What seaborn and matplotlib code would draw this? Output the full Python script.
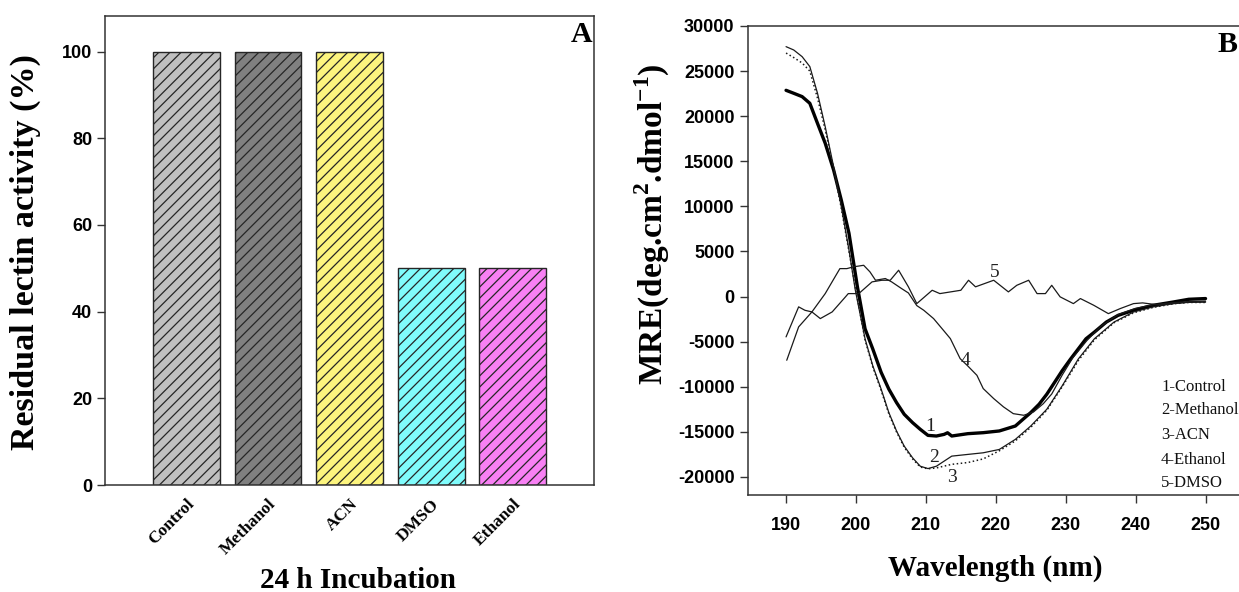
import matplotlib
matplotlib.use("Agg")
import matplotlib.pyplot as plt
import seaborn as sns
import pandas as pd

# ---------------- data: panel A ----------------
categories = ["Control", "Methanol", "ACN", "DMSO", "Ethanol"]
activity = [100, 100, 100, 50, 50]
bar_colors = ["#c0c0c0", "#808080", "#fdf57e", "#80fcfc", "#f880f4"]
a_yticks = [0, 20, 40, 60, 80, 100]

# ---------------- data: panel B ----------------
wl_control = [190, 191.1, 192.3, 193.4, 194.5, 195.6, 196.8, 197.9, 199.0, 200.2,
              201.3, 202.4, 203.6, 204.7, 205.8, 206.9, 208.1, 209.2, 210.3, 211.5,
              212.6, 213.1, 213.7, 216.0, 218.2, 220.5, 222.8, 223.9, 225.0, 226.2,
              227.3, 228.4, 229.5, 230.7, 231.8, 232.9, 234.1, 235.8, 237.5, 239.7,
              242.5, 245.4, 247.6, 250.0]
mre_control = [22870, 22540, 22170, 21430, 19200, 17000, 14040, 10700, 7020, 1100,
               -3570, -5800, -8400, -10260, -11750, -13050, -13980, -14720, -15390, -15460,
               -15280, -15100, -15460, -15200, -15090, -14900, -14350, -13600, -12860, -11930,
               -10820, -9520, -8210, -6920, -5800, -4680, -3940, -2830, -2080, -1520,
               -970, -600, -300, -220]

wl_methanol = [190, 191.1, 192.3, 193.4, 194.5, 195.6, 196.8, 197.9, 199.0, 199.9,
               201.3, 202.4, 203.6, 204.7, 205.8, 206.9, 208.1, 209.2, 210.3, 211.5,
               212.6, 213.7, 216.0, 218.2, 220.5, 222.8, 225.0, 227.3, 229.5, 231.8,
               234.1, 236.9, 239.7, 242.5, 245.4, 247.6, 250.0]
mre_methanol = [27710, 27340, 26600, 25500, 22540, 18840, 14410, 9980, 5170, 740,
                -4680, -7660, -10260, -12860, -14900, -16580, -17880, -18810, -19070, -18810,
                -18250, -17690, -17500, -17320, -16950, -15830, -14350, -12490, -9890, -6920,
                -4680, -2830, -1710, -1150, -780, -600, -600]

wl_acn = [190, 191.1, 192.3, 193.4, 194.5, 195.6, 196.8, 197.9, 199.0, 200.0,
          201.3, 202.4, 203.6, 204.7, 205.8, 206.9, 208.1, 209.2, 210.3, 211.5,
          212.6, 213.7, 216.0, 218.2, 220.5, 222.8, 225.0, 227.3, 229.5, 231.8,
          234.1, 236.9, 239.7, 242.5, 245.4, 247.6, 250.0]
mre_acn = [27000, 26500, 25900, 25000, 22000, 18500, 14200, 9800, 5000, 600,
           -4800, -7800, -10400, -13000, -15000, -16700, -18000, -18900, -19100, -19000,
           -18800, -18600, -18400, -18000, -17100, -16000, -14500, -12600, -10000, -7100,
           -4800, -2900, -1800, -1200, -800, -650, -650]

wl_ethanol = [190, 191.8, 192.7, 193.7, 195.6, 197.0, 197.7, 198.7, 199.6, 201.1,
              202.0, 202.8, 204.2, 205.1, 206.5, 207.5, 208.7, 209.7, 211.1, 212.5,
              213.5, 214.9, 215.9, 217.3, 218.2, 219.7, 221.1, 222.5, 224.0, 225.4,
              226.8, 228.0, 229.5, 231.0, 233.0, 235.0, 237.5, 240.0, 242.5, 245.0,
              247.5, 250.0]
mre_ethanol = [-4470, -1140, -1520, -1700, 330, 2180, 3100, 3100, 3290, 3470,
               2740, 1810, 2000, 1630, 900, 400, -1000, -1520, -2440, -3730,
               -4660, -6880, -7620, -8730, -10200, -11310, -12230, -12980, -13160, -12790,
               -11870, -10800, -8700, -6800, -4900, -3300, -2000, -1300, -900, -700,
               -550, -500]

wl_dmso = [190.1, 191.8, 193.7, 194.9, 196.6, 198.5, 198.9, 200.4, 202.3, 203.7,
           204.9, 206.1, 207.5, 208.7, 210.9, 212.0, 215.0, 216.1, 217.1, 219.7,
           221.8, 223.0, 224.7, 225.9, 227.1, 228.0, 229.2, 231.1, 232.1, 234.0,
           236.1, 237.8, 239.7, 241.0, 243.0, 245.0, 247.5, 250.0]
mre_dmso = [-7060, -3360, -1700, -2440, -1700, -30, 330, 330, 1630, 1810,
            1810, 2920, 1080, -780, 700, 330, 700, 1810, 1080, 1810,
            520, 1250, 1810, 330, 330, 1250, -30, -780, -220, -960,
            -1890, -1330, -780, -700, -900, -800, -650, -600]

legend_lines = ["1-Control", "2-Methanol", "3-ACN", "4-Ethanol", "5-DMSO"]
b_xticks = [190, 200, 210, 220, 230, 240, 250]
b_yticks = [-20000, -15000, -10000, -5000, 0, 5000, 10000, 15000, 20000, 25000, 30000]

# ---------------- style ----------------
sns.set_style("ticks")
plt.rcParams["font.family"] = ["Liberation Serif", "DejaVu Serif"]
plt.rcParams["mathtext.fontset"] = "custom"
plt.rcParams["mathtext.rm"] = "Liberation Serif"
plt.rcParams["mathtext.bf"] = "Liberation Serif:bold"
plt.rcParams["hatch.linewidth"] = 0.9
plt.rcParams["hatch.color"] = "#1a1a1a"
plt.rcParams["text.color"] = "black"
plt.rcParams["axes.labelcolor"] = "black"
plt.rcParams["xtick.color"] = "black"
plt.rcParams["ytick.color"] = "black"

SPINE = "#333333"
tickfont = {"family": ["Liberation Sans", "DejaVu Sans"], "weight": "bold", "size": 13}

W, H = 1239, 592
fig = plt.figure(figsize=(W / 100, H / 100), dpi=100)

# ---------------- panel A ----------------
axA = fig.add_axes([104.8 / W, 1 - 485 / H, 489.5 / W, 469 / H])
dfA = pd.DataFrame({"cat": categories, "val": activity})
sns.barplot(data=dfA, x="cat", y="val", hue="cat", palette=bar_colors,
            order=categories, hue_order=categories, legend=False,
            width=0.82, saturation=1, ax=axA)
for p in axA.patches:
    p.set_hatch("///")
    p.set_edgecolor("#262626")
    p.set_linewidth(1.0)
axA.set_xlim(-1, 5)
axA.set_ylim(0, 108.2)
axA.set_yticks(a_yticks)
axA.set_yticklabels([str(t) for t in a_yticks], fontdict=tickfont)
axA.set_xticks(range(len(categories)))
axA.set_xticklabels(categories, rotation=45, ha="right", rotation_mode="anchor",
                    fontsize=12.5, fontweight="bold")
axA.tick_params(axis="x", which="major", length=0, pad=8, colors="black")
axA.set_xticks([2], minor=True)
axA.tick_params(axis="x", which="minor", length=6, width=1, color=SPINE, direction="out")
axA.tick_params(axis="y", length=6, width=1, color=SPINE, labelcolor="black",
                direction="out", pad=3)
for s in axA.spines.values():
    s.set_color(SPINE)
    s.set_linewidth(1.1)
axA.set_ylabel("Residual lectin activity (%)", fontsize=24.5, fontweight="bold")
axA.yaxis.set_label_coords(-0.163, 0.497)
axA.yaxis.label.set_va("center")
axA.set_xlabel("24 h Incubation", fontsize=21, fontweight="bold")
axA.xaxis.set_label_coords(0.517, -0.2026)
axA.xaxis.label.set_va("center")
axA.text(0.973, 0.9595, "A", transform=axA.transAxes, ha="center", va="center",
         fontsize=21.5, fontweight="bold")

# ---------------- panel B ----------------
axB = fig.add_axes([748.3 / W, 1 - 495 / H, 492.2 / W, 469 / H])
series = [
    (wl_control, mre_control, "-", 2.4, "#000000"),
    (wl_methanol, mre_methanol, "-", 0.9, "#1a1a1a"),
    (wl_acn, mre_acn, ":", 1.1, "#1a1a1a"),
    (wl_ethanol, mre_ethanol, "-", 0.9, "#1a1a1a"),
    (wl_dmso, mre_dmso, "-", 0.9, "#1a1a1a"),
]
for wl, mre, ls, lw, col in series:
    d = pd.DataFrame({"wl": wl, "mre": mre})
    sns.lineplot(data=d, x="wl", y="mre", ax=axB, color=col, linestyle=ls,
                 linewidth=lw, sort=False, estimator=None)
axB.set_xlim(184.6, 255)
axB.set_ylim(-22000, 30000)
axB.set_xticks(b_xticks)
axB.set_xticklabels([str(t) for t in b_xticks], fontdict=tickfont)
axB.set_yticks(b_yticks)
axB.set_yticklabels([str(t) for t in b_yticks], fontdict=tickfont)
axB.tick_params(axis="both", length=6, width=1, color=SPINE, labelcolor="black",
                direction="out", pad=4)
axB.tick_params(axis="x", pad=10)
axB.spines["right"].set_visible(False)
for s in ["left", "bottom", "top"]:
    axB.spines[s].set_color(SPINE)
    axB.spines[s].set_linewidth(1.1)
axB.set_ylabel(r"MRE(deg.cm$^{\mathbf{2}}$.dmol$^{\mathbf{-1}}$)", fontsize=24, fontweight="bold")
axB.yaxis.set_label_coords(-0.1957, 0.578)
axB.yaxis.label.set_va("center")
axB.set_xlabel("Wavelength (nm)", fontsize=21, fontweight="bold")
axB.xaxis.set_label_coords(0.501, -0.1557)
axB.xaxis.label.set_va("center")
axB.text(0.9746, 0.9595, "B", transform=axB.transAxes, ha="center", va="center",
         fontsize=21.5, fontweight="bold")

legend_y = [0.231, 0.181, 0.128, 0.0746, 0.0256]
for txt, yy in zip(legend_lines, legend_y):
    axB.text(0.8385, yy, txt, transform=axB.transAxes, ha="left", va="center",
             fontsize=12, color="#111111")

curve_labels = [("1", 210.6, -14350), ("2", 211.2, -17880), ("3", 213.7, -20110),
                ("4", 215.7, -7100), ("5", 219.8, 2660)]
for t, x, y in curve_labels:
    axB.text(x, y, t, ha="center", va="center", fontsize=14, color="#222222")

fig.savefig("out.png", dpi=100)
